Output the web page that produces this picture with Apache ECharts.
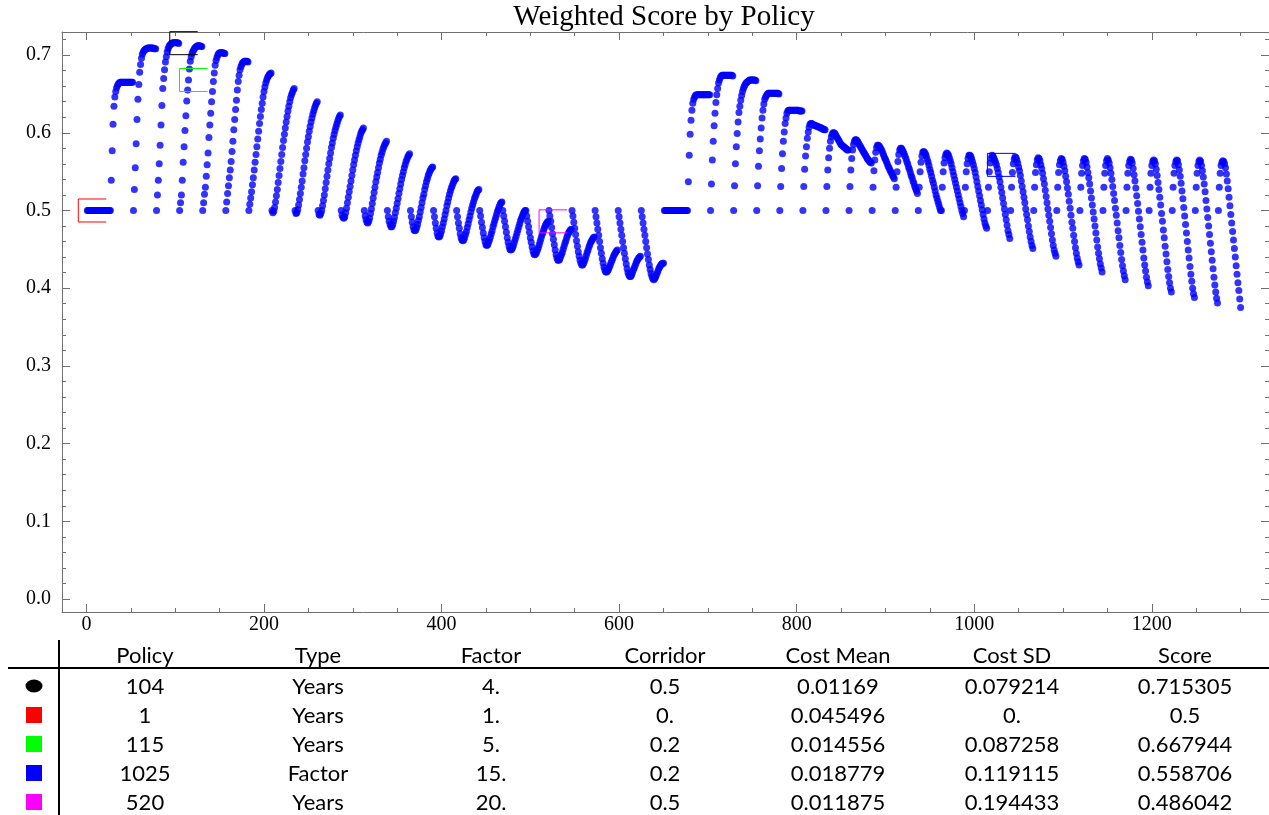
<!DOCTYPE html>
<html><head><meta charset="utf-8">
<script src="https://cdn.jsdelivr.net/npm/echarts@6/dist/echarts.min.js"></script>
<style>
html,body{margin:0;padding:0;background:#fff;}
#wrap{position:relative;width:1269px;height:815px;overflow:hidden;background:#fff;}
#chart{position:absolute;left:0;top:0;width:1269px;height:815px;}
#table{position:absolute;left:0;top:0;width:1269px;height:815px;pointer-events:none;font-family:Lato,"Noto Sans",sans-serif;font-size:22px;color:#000;}
.cell{position:absolute;transform:translate(-50%,-50%);white-space:nowrap;line-height:1;}
.rule{position:absolute;background:#000;}
.mk{position:absolute;transform:translate(-50%,-50%);}
</style></head>
<body><div id="wrap"><div id="chart"></div><div id="table"></div></div>
<script>
// ---- Scores of policies of type "Years" (factor groups 1..25, 26 corridor settings each) ----
const yearsGroups = [
[0.5,0.5,0.5,0.5,0.5,0.5,0.5,0.5,0.5,0.5,0.5,0.5,0.5,0.5,0.5,0.5,0.5,0.5,0.5,0.5,0.5,0.5,0.5,0.5,0.5,0.5],
[0.5,0.539,0.577,0.611,0.634,0.646,0.653,0.658,0.661,0.663,0.664,0.665,0.665,0.665,0.665,0.665,0.665,0.665,0.665,0.665,0.665,0.665,0.665,0.665,0.665,0.665],
[0.5,0.527,0.555,0.586,0.617,0.643,0.662,0.678,0.688,0.696,0.701,0.704,0.706,0.707,0.708,0.708,0.709,0.709,0.709,0.709,0.709,0.709,0.709,0.708,0.708,0.708],
[0.5,0.52,0.539,0.56,0.584,0.61,0.635,0.657,0.67,0.681,0.691,0.698,0.704,0.708,0.711,0.713,0.714,0.715,0.716,0.716,0.716,0.716,0.716,0.716,0.716,0.715],
[0.5,0.51,0.52,0.539,0.562,0.582,0.603,0.622,0.641,0.655,0.668,0.682,0.692,0.698,0.702,0.705,0.707,0.709,0.71,0.711,0.712,0.712,0.712,0.712,0.711,0.711],
[0.5,0.51,0.521,0.53,0.544,0.559,0.574,0.594,0.61,0.625,0.64,0.653,0.666,0.677,0.687,0.693,0.697,0.7,0.702,0.703,0.703,0.703,0.703,0.703,0.702,0.702],
[0.5,0.511,0.522,0.532,0.542,0.552,0.563,0.576,0.589,0.604,0.617,0.63,0.642,0.655,0.666,0.674,0.681,0.685,0.688,0.69,0.691,0.692,0.692,0.692,0.692,0.691],
[0.5,0.508,0.516,0.524,0.533,0.542,0.552,0.562,0.572,0.582,0.592,0.602,0.612,0.621,0.63,0.638,0.646,0.653,0.659,0.664,0.668,0.671,0.673,0.675,0.676,0.677],
[0.5,0.497,0.499,0.504,0.511,0.519,0.527,0.536,0.545,0.554,0.563,0.572,0.581,0.59,0.598,0.606,0.614,0.621,0.628,0.634,0.64,0.645,0.649,0.652,0.655,0.657],
[0.5,0.496,0.497,0.501,0.507,0.514,0.522,0.53,0.538,0.547,0.555,0.564,0.572,0.58,0.588,0.595,0.602,0.608,0.614,0.619,0.624,0.628,0.632,0.635,0.638,0.64],
[0.5,0.495,0.494,0.496,0.5,0.506,0.513,0.52,0.528,0.536,0.544,0.552,0.56,0.567,0.574,0.581,0.587,0.593,0.598,0.603,0.607,0.611,0.615,0.618,0.621,0.623],
[0.5,0.494,0.491,0.49,0.492,0.497,0.503,0.51,0.517,0.524,0.531,0.538,0.545,0.552,0.559,0.565,0.571,0.577,0.582,0.587,0.591,0.595,0.599,0.602,0.604,0.606],
[0.5,0.493,0.488,0.485,0.484,0.486,0.49,0.496,0.502,0.509,0.516,0.523,0.53,0.537,0.543,0.549,0.555,0.561,0.566,0.571,0.575,0.579,0.582,0.585,0.587,0.589],
[0.5,0.492,0.486,0.482,0.479,0.479,0.482,0.486,0.491,0.497,0.503,0.509,0.515,0.522,0.528,0.534,0.54,0.545,0.55,0.555,0.559,0.563,0.566,0.569,0.571,0.573],
[0.5,0.492,0.485,0.479,0.475,0.474,0.475,0.478,0.482,0.487,0.492,0.498,0.504,0.51,0.516,0.521,0.527,0.532,0.537,0.541,0.545,0.548,0.551,0.553,0.555,0.556],
[0.5,0.492,0.484,0.477,0.471,0.467,0.466,0.467,0.47,0.474,0.479,0.484,0.489,0.495,0.5,0.506,0.511,0.516,0.521,0.525,0.529,0.532,0.535,0.538,0.54,0.541],
[0.5,0.492,0.484,0.477,0.47,0.465,0.462,0.461,0.462,0.465,0.469,0.473,0.478,0.483,0.488,0.493,0.498,0.503,0.507,0.511,0.515,0.518,0.521,0.524,0.526,0.527],
[0.5,0.493,0.485,0.478,0.471,0.465,0.46,0.456,0.455,0.456,0.459,0.462,0.466,0.47,0.474,0.479,0.483,0.487,0.491,0.495,0.499,0.502,0.505,0.508,0.51,0.511],
[0.5,0.493,0.486,0.479,0.472,0.465,0.459,0.454,0.45,0.449,0.45,0.452,0.455,0.459,0.463,0.467,0.471,0.475,0.479,0.483,0.487,0.49,0.493,0.496,0.498,0.5],
[0.5,0.493,0.486,0.479,0.472,0.465,0.459,0.453,0.448,0.444,0.443,0.444,0.446,0.449,0.452,0.456,0.46,0.464,0.468,0.471,0.475,0.478,0.481,0.483,0.485,0.486],
[0.5,0.493,0.486,0.478,0.47,0.463,0.456,0.449,0.443,0.439,0.436,0.436,0.437,0.44,0.443,0.446,0.45,0.454,0.458,0.461,0.465,0.468,0.471,0.473,0.475,0.476],
[0.5,0.493,0.485,0.477,0.469,0.461,0.454,0.447,0.441,0.436,0.432,0.43,0.43,0.432,0.435,0.438,0.442,0.446,0.449,0.453,0.456,0.459,0.461,0.463,0.465,0.466],
[0.5,0.492,0.484,0.476,0.468,0.46,0.452,0.445,0.438,0.432,0.427,0.423,0.421,0.421,0.422,0.424,0.427,0.43,0.433,0.436,0.439,0.442,0.444,0.446,0.448,0.449],
[0.5,0.492,0.484,0.476,0.468,0.46,0.452,0.445,0.438,0.431,0.425,0.42,0.417,0.415,0.415,0.417,0.42,0.423,0.426,0.429,0.432,0.435,0.437,0.439,0.44,0.441],
[0.5,0.492,0.484,0.476,0.468,0.46,0.452,0.444,0.437,0.43,0.424,0.419,0.415,0.412,0.411,0.412,0.414,0.417,0.42,0.423,0.426,0.428,0.43,0.431,0.432,0.432]
];
// ---- Scores of policies of type "Factor" (policies 651..1300) ----
const factorGroups = [
[0.5,0.5,0.5,0.5,0.5,0.5,0.5,0.5,0.5,0.5,0.5,0.5,0.5,0.5,0.5,0.5,0.5,0.5,0.5,0.5,0.5,0.5,0.5,0.5,0.5,0.5],
[0.5,0.537,0.571,0.598,0.616,0.629,0.638,0.643,0.646,0.648,0.649,0.649,0.649,0.649,0.649,0.649,0.649,0.649,0.649,0.649,0.649,0.649,0.649,0.649,0.649,0.649],
[0.5,0.534,0.565,0.589,0.609,0.625,0.639,0.649,0.657,0.664,0.668,0.671,0.673,0.674,0.674,0.674,0.674,0.674,0.674,0.674,0.674,0.674,0.674,0.674,0.674,0.673],
[0.5,0.532,0.56,0.582,0.599,0.614,0.626,0.634,0.642,0.648,0.653,0.657,0.66,0.662,0.664,0.665,0.666,0.667,0.668,0.668,0.668,0.668,0.668,0.668,0.668,0.667],
[0.5,0.532,0.557,0.577,0.592,0.606,0.619,0.629,0.637,0.643,0.646,0.648,0.65,0.651,0.651,0.651,0.651,0.651,0.651,0.651,0.651,0.651,0.651,0.651,0.651,0.65],
[0.5,0.531,0.554,0.573,0.589,0.601,0.612,0.619,0.625,0.628,0.629,0.629,0.629,0.629,0.629,0.629,0.629,0.629,0.629,0.629,0.629,0.629,0.628,0.628,0.628,0.628],
[0.5,0.531,0.553,0.57,0.582,0.593,0.601,0.607,0.611,0.612,0.612,0.611,0.61,0.61,0.609,0.609,0.608,0.608,0.607,0.607,0.606,0.606,0.605,0.605,0.604,0.604],
[0.5,0.531,0.552,0.568,0.58,0.589,0.595,0.598,0.6,0.6,0.599,0.597,0.595,0.593,0.591,0.589,0.587,0.585,0.584,0.583,0.582,0.581,0.58,0.579,0.578,0.578],
[0.5,0.531,0.552,0.567,0.578,0.585,0.589,0.591,0.591,0.59,0.588,0.586,0.584,0.582,0.58,0.578,0.576,0.574,0.572,0.57,0.568,0.566,0.565,0.563,0.562,0.561],
[0.5,0.53,0.551,0.565,0.575,0.581,0.584,0.584,0.583,0.581,0.579,0.577,0.574,0.571,0.568,0.566,0.563,0.56,0.557,0.555,0.552,0.55,0.548,0.545,0.543,0.541],
[0.5,0.53,0.55,0.563,0.572,0.578,0.58,0.58,0.578,0.576,0.573,0.57,0.567,0.563,0.56,0.556,0.553,0.549,0.545,0.542,0.538,0.535,0.531,0.528,0.525,0.522],
[0.5,0.53,0.55,0.562,0.57,0.575,0.576,0.575,0.573,0.57,0.566,0.562,0.558,0.553,0.549,0.544,0.539,0.535,0.53,0.525,0.52,0.516,0.512,0.508,0.504,0.5],
[0.5,0.53,0.55,0.561,0.568,0.572,0.574,0.573,0.571,0.568,0.564,0.56,0.555,0.55,0.545,0.54,0.535,0.53,0.525,0.52,0.515,0.51,0.505,0.5,0.496,0.492],
[0.5,0.53,0.55,0.56,0.567,0.571,0.571,0.57,0.567,0.563,0.559,0.554,0.549,0.543,0.537,0.531,0.525,0.519,0.513,0.507,0.501,0.495,0.489,0.484,0.48,0.477],
[0.5,0.53,0.55,0.561,0.567,0.571,0.57,0.568,0.565,0.562,0.5587,0.554,0.549,0.543,0.537,0.53,0.523,0.516,0.509,0.502,0.495,0.488,0.481,0.474,0.469,0.464],
[0.5,0.53,0.549,0.56,0.566,0.569,0.568,0.565,0.561,0.556,0.551,0.545,0.538,0.531,0.524,0.517,0.51,0.502,0.495,0.488,0.48,0.473,0.466,0.46,0.455,0.451],
[0.5,0.53,0.549,0.559,0.565,0.568,0.567,0.564,0.559,0.554,0.548,0.541,0.534,0.526,0.518,0.51,0.502,0.494,0.486,0.478,0.47,0.462,0.455,0.449,0.445,0.441],
[0.5,0.53,0.549,0.559,0.564,0.567,0.566,0.562,0.557,0.551,0.544,0.537,0.529,0.521,0.512,0.503,0.494,0.485,0.477,0.468,0.46,0.452,0.445,0.439,0.434,0.43],
[0.5,0.53,0.548,0.558,0.564,0.567,0.566,0.562,0.556,0.549,0.542,0.534,0.525,0.516,0.507,0.498,0.489,0.48,0.471,0.462,0.453,0.445,0.438,0.431,0.426,0.421],
[0.5,0.53,0.548,0.558,0.564,0.567,0.565,0.561,0.555,0.548,0.54,0.531,0.522,0.513,0.503,0.494,0.484,0.474,0.465,0.455,0.446,0.437,0.429,0.422,0.416,0.411],
[0.5,0.53,0.548,0.558,0.563,0.566,0.565,0.561,0.554,0.546,0.538,0.529,0.519,0.509,0.499,0.489,0.479,0.469,0.459,0.449,0.439,0.43,0.422,0.414,0.408,0.403],
[0.5,0.53,0.548,0.558,0.563,0.565,0.564,0.56,0.553,0.545,0.536,0.527,0.517,0.507,0.496,0.486,0.475,0.465,0.454,0.444,0.434,0.424,0.415,0.407,0.4,0.395],
[0.5,0.53,0.548,0.558,0.563,0.565,0.564,0.559,0.552,0.544,0.535,0.525,0.515,0.504,0.493,0.482,0.471,0.46,0.449,0.439,0.428,0.418,0.409,0.4,0.393,0.388],
[0.5,0.53,0.548,0.558,0.563,0.565,0.563,0.558,0.551,0.543,0.534,0.524,0.513,0.502,0.491,0.48,0.469,0.458,0.447,0.436,0.425,0.414,0.404,0.395,0.387,0.381],
[0.5,0.53,0.548,0.558,0.562,0.564,0.563,0.56,0.555,0.547,0.538,0.528,0.517,0.506,0.495,0.484,0.473,0.462,0.451,0.44,0.429,0.418,0.407,0.397,0.386,0.375]
];
const groupSize = 26;

// ---- Highlighted policies (table rows) ----
const tableHeaders = ['Policy','Type','Factor','Corridor','Cost Mean','Cost SD','Score'];
const tablePolicy = [104, 1, 115, 1025, 520];
const tableType = ['Years','Years','Years','Factor','Years'];
const tableFactor = ['4.','1.','5.','15.','20.'];
const tableCorridor = ['0.5','0.','0.2','0.2','0.5'];
const tableCostMean = ['0.01169','0.045496','0.014556','0.018779','0.011875'];
const tableCostSD = ['0.079214','0.','0.087258','0.119115','0.194433'];
const tableScore = ['0.715305','0.5','0.667944','0.558706','0.486042'];
const markerColors = ['#000000','#ff0000','#00ff00','#0000ff','#ff00ff'];

// ---- Axis ticks ----
const xMajorTicks = [0,200,400,600,800,1000,1200];
const xMinorTicks = [50,100,150,250,300,350,450,500,550,650,700,750,850,900,950,1050,1100,1150,1250,1300];
const yMajorTicks = [0,0.1,0.2,0.3,0.4,0.5,0.6,0.7];
const yMinorTicks = [0.02,0.04,0.06,0.08,0.12,0.14,0.16,0.18,0.22,0.24,0.26,0.28,0.32,0.34,0.36,0.38,0.42,0.44,0.46,0.48,0.52,0.54,0.56,0.58,0.62,0.64,0.66,0.68,0.72];

const points = [];
yearsGroups.forEach((g, gi) => g.forEach((v, i) => points.push([gi * groupSize + i + 1, v])));
factorGroups.forEach((g, gi) => g.forEach((v, i) => points.push([yearsGroups.length * groupSize + gi * groupSize + i + 1, v])));
const highlights = tablePolicy.map((p, i) => [p, parseFloat(tableScore[i])]);

const X_MIN = -27.5, X_MAX = 1332, Y_MIN = -0.0167, Y_MAX = 0.7297;
const frameColor = '#707070';
const serif = '"Liberation Serif","DejaVu Serif",serif';

function xAx(pos, ticks, len, labels, lineShow) {
  return {
    type: 'value', position: pos, min: X_MIN, max: X_MAX, gridIndex: 0,
    axisLine: { show: lineShow, onZero: false, lineStyle: { color: frameColor, width: 1 } },
    axisTick: { show: true, inside: true, length: len, customValues: ticks, lineStyle: { color: frameColor } },
    axisLabel: labels ? { show: true, customValues: ticks, margin: 3, color: '#000', fontFamily: serif, fontSize: 20, formatter: v => String(v) } : { show: false },
    splitLine: { show: false }
  };
}
function yAx(pos, ticks, len, labels, lineShow) {
  return {
    type: 'value', position: pos, min: Y_MIN, max: Y_MAX, gridIndex: 0,
    axisLine: { show: lineShow, onZero: false, lineStyle: { color: frameColor, width: 1 } },
    axisTick: { show: true, inside: true, length: len, customValues: ticks, lineStyle: { color: frameColor } },
    axisLabel: labels ? { show: true, customValues: ticks, margin: 11, color: '#000', fontFamily: serif, fontSize: 20, formatter: v => v.toFixed(1) } : { show: false },
    splitLine: { show: false }
  };
}

const chart = echarts.init(document.getElementById('chart'), null, { renderer: 'canvas' });
chart.setOption({
  animation: false,
  backgroundColor: '#fff',
  grid: { left: 62, top: 32, width: 1213, height: 580, containLabel: false },
  xAxis: [
    xAx('bottom', xMajorTicks, 8, true, true),
    xAx('bottom', xMinorTicks, 4, false, false),
    xAx('top', xMajorTicks, 8, false, true),
    xAx('top', xMinorTicks, 4, false, false)
  ],
  yAxis: [
    yAx('left', yMajorTicks, 8, true, true),
    yAx('left', yMinorTicks, 4, false, false),
    yAx('right', yMajorTicks, 8, false, true),
    yAx('right', yMinorTicks, 4, false, false)
  ],
  graphic: [{
    type: 'text', x: 664, y: 17, z: 10,
    style: { text: 'Weighted Score by Policy', font: '29px ' + serif, fill: '#000', align: 'center', verticalAlign: 'middle' }
  }],
  series: [
    {
      type: 'scatter', xAxisIndex: 0, yAxisIndex: 0, data: points,
      symbol: 'circle', symbolSize: 7, itemStyle: { color: '#0000ff' }, silent: true, z: 2
    },
    {
      type: 'custom', xAxisIndex: 0, yAxisIndex: 0, data: highlights, clip: false, z: 3, silent: true,
      renderItem: function (params, api) {
        const p = api.coord([api.value(0), api.value(1)]);
        return {
          type: 'polyline',
          shape: { points: [[p[0] + 19, p[1] - 11.5], [p[0] - 9, p[1] - 11.5], [p[0] - 9, p[1] + 11.5], [p[0] + 19, p[1] + 11.5]] },
          style: { stroke: markerColors[params.dataIndex], fill: null, lineWidth: 1 }
        };
      }
    }
  ]
});

// ---- Table ----
const tbl = document.getElementById('table');
const colX = [145, 318, 491, 665, 838, 1012, 1185];
const headerY = 655;
const rowY = [686, 715, 744, 773, 802];
function addCell(text, x, y) {
  const d = document.createElement('div');
  d.className = 'cell'; d.textContent = text;
  d.style.left = x + 'px'; d.style.top = y + 'px';
  tbl.appendChild(d);
}
tableHeaders.forEach((h, i) => addCell(h, colX[i], headerY));
const cols = [tablePolicy.map(String), tableType, tableFactor, tableCorridor, tableCostMean, tableCostSD, tableScore];
rowY.forEach((y, r) => {
  cols.forEach((c, ci) => addCell(c[r], colX[ci], y));
  const m = document.createElement('div');
  m.className = 'mk';
  m.style.left = '34px'; m.style.top = y + 'px';
  m.style.background = markerColors[r];
  if (r === 0) { m.style.width = '17px'; m.style.height = '13px'; m.style.borderRadius = '50%'; }
  else { m.style.width = '16px'; m.style.height = '16px'; }
  tbl.appendChild(m);
});
const hr = document.createElement('div'); hr.className = 'rule';
hr.style.left = '8px'; hr.style.top = '667px'; hr.style.width = '1261px'; hr.style.height = '2px';
tbl.appendChild(hr);
const vr = document.createElement('div'); vr.className = 'rule';
vr.style.left = '58px'; vr.style.top = '640px'; vr.style.width = '2px'; vr.style.height = '175px';
tbl.appendChild(vr);
</script>
</body></html>
